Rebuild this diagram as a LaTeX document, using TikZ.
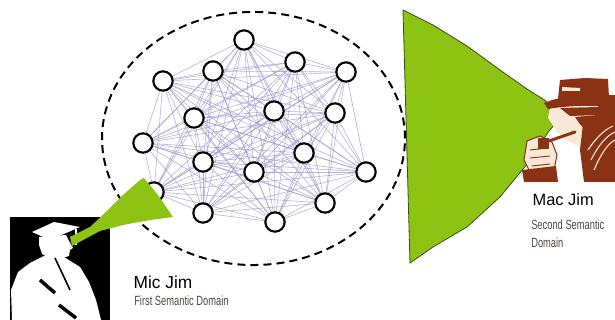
\documentclass[tikz,border=0pt]{standalone}
\usepackage{fontspec}
\setmainfont{Liberation Sans}
\newfontfamily\condensed[FakeStretch=0.7]{Liberation Sans}
\usetikzlibrary{backgrounds}

\definecolor{beamgreen}{RGB}{141,196,20}
\definecolor{beamedge}{RGB}{60,75,30}
\definecolor{linkblue}{RGB}{155,155,205}
\definecolor{pipebrown}{RGB}{138,50,20}
\definecolor{skin}{RGB}{247,233,214}
\definecolor{captiongray}{RGB}{80,72,68}

\begin{document}
\begin{tikzpicture}[x=0.75pt,y=-0.75pt,
  peer/.style={circle,draw=black,line width=1.6pt,fill=white,minimum size=14.5pt,inner sep=0pt},
  link/.style={draw=linkblue,line width=0.45pt,opacity=0.75},
  domainborder/.style={draw=black,line width=1.5pt,dash pattern=on 6pt off 3.8pt},
  beam/.style={fill=beamgreen},
  bigbeam/.style={fill=beamgreen,draw=beamedge,line width=0.6pt},
  person/.style={anchor=base west,font=\fontsize{13}{15}\selectfont},
  domaintext/.style={anchor=base west,text=captiongray,font=\condensed\fontsize{10}{12}\selectfont,inner sep=0pt},
  hatbrown/.style={fill=pipebrown},
  ]
\useasboundingbox (0,0) rectangle (615,320);

% peers of the first semantic domain
\foreach \k/\px/\py in {1/244/40, 2/295/62, 3/346/72, 4/213/71, 5/163/81,
  6/194/118, 7/274/111, 8/335/113, 9/143/143, 10/203/162, 11/304/153,
  12/254/172, 13/366/172, 14/154/192, 15/203/213, 16/275/222, 17/325/203}
  \node[peer] (n\k) at (\px,\py) {};

\begin{scope}[on background layer]
  \fill[white] (0,0) rectangle (615,320);
  % domain boundary
  \draw[domainborder] (253.5,138.5) ellipse [x radius=113.6pt, y radius=94.9pt];
  % every peer linked to every other peer
  \foreach \i in {1,...,17}{
    \foreach \j in {1,...,17}{
      \ifnum\i<\j \draw[link] (n\i) -- (n\j); \fi
    }
  }
\end{scope}

% second domain: wide cone of view
\filldraw[bigbeam] (403,10) -- (433,25) -- (467,46) -- (500,70) -- (527,89)
  -- (546,101) -- (551,112) -- (556,123) -- (549,131) -- (540,145)
  -- (533,157) -- (500,197) -- (467,227) -- (433,247) -- (410,263) -- cycle;

% Mic Jim: graduate silhouette
\fill[black] (10,217) rectangle (110,320);
\fill[white] (32,232) -- (54,222) -- (80,227) -- (50,240) -- cycle;
\fill[white] (39,237) -- (66,235) -- (69,241) -- (73,248) -- (70,250)
  -- (69,256) -- (62,258) -- (50,258) -- (42,254) -- (39,245) -- cycle;
\draw[white,line width=1.3pt] (76,229) -- (76,245);
\fill[white] (46,255) -- (64,257) -- (80,267) -- (89,282) -- (96,300)
  -- (101,320) -- (12,320) -- (11,290) -- (18,272) -- (30,263) -- cycle;
\draw[black,line width=1.2pt] (55,258) -- (63,275) -- (70,290);
\draw[black,line width=2.6pt] (40,280) -- (55,293);
\draw[black,line width=2.6pt] (59,305) -- (76,318);

% Mic Jim: narrow cone of view
\fill[beam] (70,237) -- (90,227) -- (107,211) -- (123,195) -- (140,180)
  -- (144,178) -- (158,195) -- (173,217) -- (150,220) -- (123,225)
  -- (100,231) -- (72,246) -- cycle;

% Mac Jim: detective with pipe
\fill[skin] (550,107) -- (598,107) -- (598,142) -- (582,148) -- (566,140)
  -- (556,131) -- (552,124) -- (548,118) -- cycle;
\fill[hatbrown] (560,80) -- (585,78) -- (608,79) -- (609,98) -- (558,99) -- cycle;
\fill[skin] (562,87) -- (580,88) -- (580,91) -- (562,91) -- cycle;
\fill[hatbrown] (544,103) .. controls (560,96) and (585,94) .. (612,96)
  -- (612,107) .. controls (585,105) and (565,106) .. (548,109) -- cycle;
\fill[hatbrown] (560,108) -- (598,107) -- (598,115) -- (570,116) -- cycle;
\fill[hatbrown] (575,117) -- (598,115) -- (598,136) -- (586,131) -- (579,123) -- cycle;
\fill[hatbrown] (598,95) rectangle (615,136);
\fill[hatbrown] (583,124) -- (615,122) -- (615,182) -- (584,182) -- (580,150) -- cycle;
\draw[skin,line width=0.8pt] (588,150) .. controls (596,138) and (604,130) .. (613,126);
\draw[skin,line width=0.8pt] (591,160) .. controls (598,146) and (606,136) .. (615,132);
\draw[skin,line width=0.8pt] (594,170) .. controls (600,156) and (607,144) .. (615,140);
\fill[skin] (527,141) -- (540,136) -- (552,142) -- (557,155) -- (554,170)
  -- (546,178) -- (532,176) -- (524,160) -- cycle;
\draw[pipebrown,line width=0.8pt] (527,141) -- (540,136) -- (552,142) -- (557,155)
  -- (554,170) -- (546,178) -- (532,176) -- (524,160) -- cycle;
\draw[pipebrown,line width=0.7pt] (530,150) -- (548,148);
\draw[pipebrown,line width=0.7pt] (530,158) -- (550,156);
\draw[pipebrown,line width=0.7pt] (532,166) -- (550,164);
\draw[pipebrown,line width=2.2pt,line cap=round] (546,142) -- (575,132);
\fill[pipebrown] (538,138) rectangle (549,149);
\fill[pipebrown] (522,170) -- (556,166) -- (558,182) -- (524,182) -- cycle;

% captions
\node[person] (micname) at (129,289) {Mic Jim};
\node[domaintext] (micdomain) at (134,306) {First Semantic Domain};
\node[person,font=\fontsize{12.3}{14}\selectfont] (macname) at (528,206) {Mac Jim};
\node[domaintext] (macdomain1) at (531,230) {Second Semantic};
\node[domaintext] (macdomain2) at (531,248) {Domain};
\end{tikzpicture}
\end{document}
